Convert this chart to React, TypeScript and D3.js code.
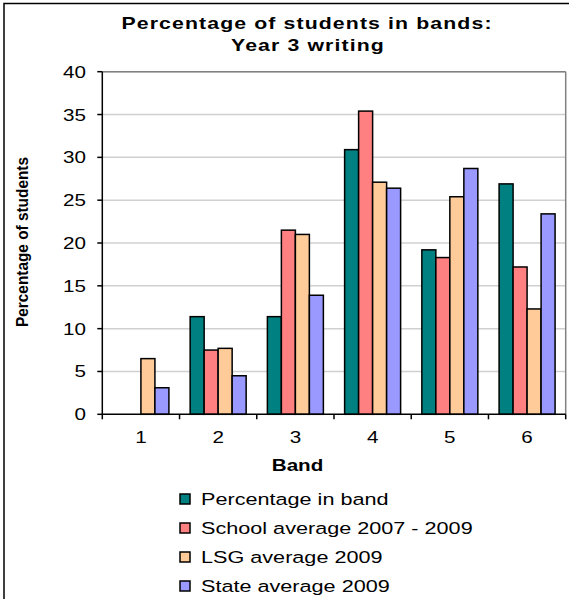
import React from "react";
import * as d3 from "d3";

const bands = ["1", "2", "3", "4", "5", "6"];
const seriesNames = [
  "Percentage in band",
  "School average 2007 - 2009",
  "LSG average 2009",
  "State average 2009",
];
const percentageInBand = [0, 11.4, 11.4, 30.9, 19.2, 26.9];
const schoolAverage = [0, 7.5, 21.5, 35.4, 18.3, 17.2];
const lsgAverage = [6.5, 7.7, 21.0, 27.1, 25.4, 12.3];
const stateAverage = [3.1, 4.5, 13.9, 26.4, 28.7, 23.4];
const colors = ["#008080", "#FF8080", "#FFCC99", "#9999FF"];
const yTicks = [0, 5, 10, 15, 20, 25, 30, 35, 40];

const W = 569;
const H = 599;
const left = 102.3;
const right = 565.7;
const top = 71.7;
const bottom = 414.3;
const FONT = "'Liberation Sans', Arial, sans-serif";
const SX = 1.25;

function T(props: {
  x: number;
  y: number;
  anchor?: string;
  size: number;
  bold?: boolean;
  spacing?: number;
  children: React.ReactNode;
}) {
  return (
    <text
      transform={`translate(${props.x},${props.y}) scale(${SX},1)`}
      textAnchor={props.anchor || "start"}
      fontSize={props.size}
      fontWeight={props.bold ? "bold" : "normal"}
      letterSpacing={props.spacing || 0}
    >
      {props.children}
    </text>
  );
}

export default function App() {
  const seriesValues = [percentageInBand, schoolAverage, lsgAverage, stateAverage];
  const x = d3.scaleBand().domain(bands).range([left, right]).paddingInner(0.275).paddingOuter(0.1375);
  const xs = d3.scaleBand().domain(seriesNames).range([0, x.bandwidth()]);
  const y = d3.scaleLinear().domain([0, 40]).range([bottom, top]);
  const step = (right - left) / bands.length;

  return (
    <svg width={W} height={H} style={{ position: "absolute", left: 0, top: 0 }} fontFamily={FONT}>
      <rect x={0} y={0} width={W} height={H} fill="#fff" />
      <rect x={4} y={3.5} width={W + 10} height={H + 10} fill="none" stroke="#000" strokeWidth={1.5} />
      <T x={307} y={29} anchor="middle" size={17} bold spacing={0.9}>
        Percentage of students in bands:
      </T>
      <T x={308} y={51} anchor="middle" size={17} bold spacing={0.9}>
        Year 3 writing
      </T>
      {/* grid */}
      {yTicks.filter((t) => t > 0).map((t) => (
        <line key={t} x1={left} x2={right} y1={y(t)} y2={y(t)} stroke="#d0d0d0" strokeWidth={1.5} />
      ))}
      {/* plot border top/right */}
      <line x1={left} x2={right} y1={top} y2={top} stroke="#808080" strokeWidth={1.5} />
      <line x1={right} x2={right} y1={top} y2={bottom} stroke="#808080" strokeWidth={1.5} />
      {/* bars */}
      {bands.map((b, i) => (
        <g key={b}>
          {seriesNames.map((s, j) => {
            const v = seriesValues[j][i];
            if (v <= 0) return null;
            return (
              <rect
                key={s}
                x={(x(b) as number) + (xs(s) as number)}
                y={y(v)}
                width={xs.bandwidth()}
                height={y(0) - y(v)}
                fill={colors[j]}
                stroke="#000"
                strokeWidth={1.5}
              />
            );
          })}
        </g>
      ))}
      {/* y axis */}
      <line x1={left} x2={left} y1={top} y2={bottom} stroke="#000" strokeWidth={1.5} />
      {yTicks.map((t) => (
        <g key={t}>
          <line x1={left - 5} x2={left} y1={y(t)} y2={y(t)} stroke="#000" strokeWidth={1.5} />
          <T x={86} y={y(t) + 6} anchor="end" size={16.5}>
            {t}
          </T>
        </g>
      ))}
      {/* x axis */}
      <line x1={left} x2={right} y1={bottom} y2={bottom} stroke="#000" strokeWidth={1.5} />
      {d3.range(bands.length + 1).map((k) => (
        <line key={k} x1={left + k * step} x2={left + k * step} y1={bottom} y2={bottom + 5} stroke="#000" strokeWidth={1.5} />
      ))}
      {bands.map((b) => (
        <T key={b} x={(x(b) as number) + x.bandwidth() / 2} y={443} anchor="middle" size={16.5}>
          {b}
        </T>
      ))}
      <T x={297.5} y={470.5} anchor="middle" size={16.5} bold>
        Band
      </T>
      <text
        transform={`translate(28,242) rotate(-90)`}
        textAnchor="middle"
        fontWeight="bold"
        fontSize={17}
        textLength={170}
        lengthAdjust="spacingAndGlyphs"
      >
        Percentage of students
      </text>
      {/* legend */}
      {seriesNames.map((s, j) => (
        <g key={s} transform={`translate(180,${499 + j * 29})`}>
          <rect x={0} y={-5} width={10} height={10} fill={colors[j]} stroke="#000" strokeWidth={1.5} />
          <T x={21} y={6} size={17.3}>
            {s}
          </T>
        </g>
      ))}
    </svg>
  );
}
